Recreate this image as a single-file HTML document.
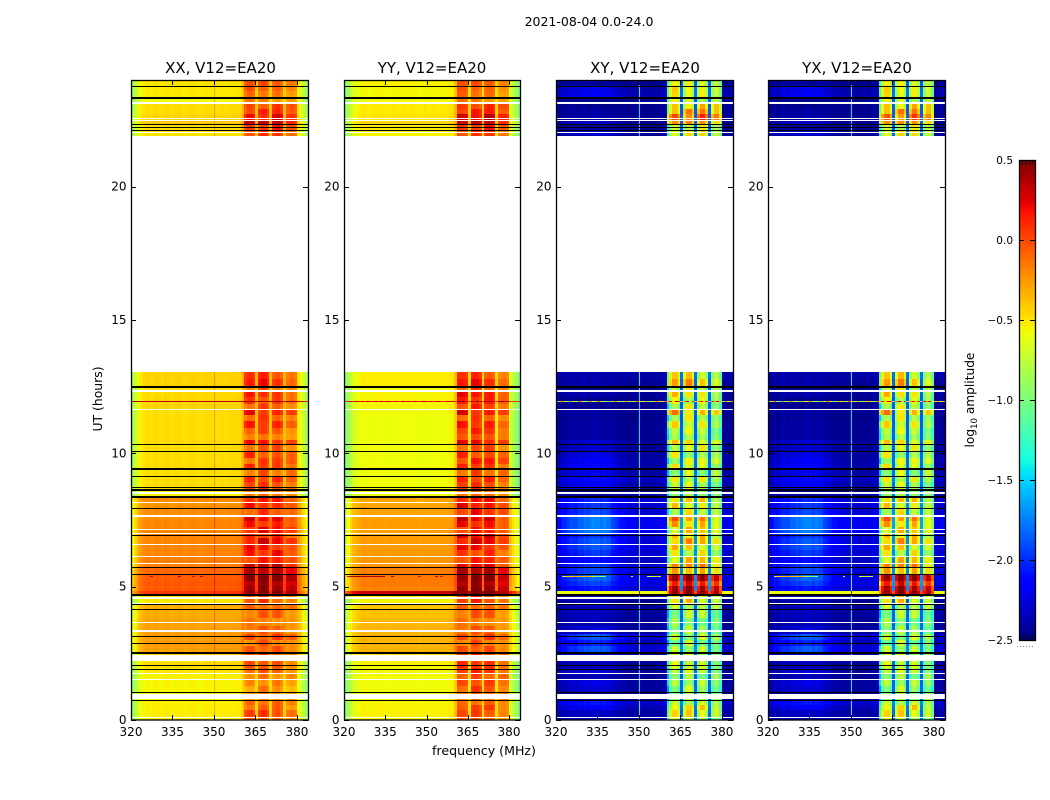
<!DOCTYPE html>
<html lang="en">
<head>
<meta charset="utf-8">
<title>2021-08-04 0.0-24.0</title>
<style>
html,body{margin:0;padding:0;background:#fff;}
svg{display:block;}
text{font-family:"DejaVu Sans","Liberation Sans",sans-serif;fill:#000;}
</style>
</head>
<body>
<svg id="chart" xmlns="http://www.w3.org/2000/svg" width="1050" height="800" viewBox="0 0 1050 800">
<rect x="0" y="0" width="1050" height="800" fill="#fff"/>
<text x="589" y="26" font-size="12.5" text-anchor="middle">2021-08-04 0.0-24.0</text>
<text x="484" y="755" font-size="12.6" text-anchor="middle">frequency (MHz)</text>
<text x="102" y="399" font-size="12.4" text-anchor="middle" transform="rotate(-90 102 399)">UT (hours)</text>
<text x="974" y="400" font-size="12.2" text-anchor="middle" transform="rotate(-90 974 400)">log<tspan font-size="8.5" dy="3">10</tspan><tspan dy="-3"> amplitude</tspan></text>
<g id="panels"></g>
<g id="colorbar"></g>
</svg>
<script>
/* ---------- data ---------- */
var panelTitles = ["XX, V12=EA20", "YY, V12=EA20", "XY, V12=EA20", "YX, V12=EA20"];
var xTickLabels = [320, 335, 350, 365, 380];
var yTickLabels = [0, 5, 10, 15, 20];
var cbarTickLabels = [0.5, 0, -0.5, -1, -1.5, -2, -2.5];
var freqStartMHz = 320;
var channelCount = 64;

var bandStartUT = [0,.11,.38,.56,.75,1.05,1.28,1.5,1.73,1.95,2.21,2.55,2.78,3,3.23,3.53,3.83,4.13,4.39,4.69,4.84,5.03,5.21,5.44,5.7,5.89,6.15,6.38,6.6,6.83,7.01,7.24,7.46,7.69,7.95,8.18,8.36,8.63,8.93,9.15,9.38,9.6,9.83,10.05,10.31,10.5,10.73,10.95,11.21,11.44,11.66,11.85,12.11,12.34,12.53,12.79,13.05,21.9,22.09,22.31,22.5,22.73,22.91,23.1,23.36,23.59,23.78];

var xxLow = [-.53,-.53,-.54,-.54,-.55,-.56,-.56,-.54,-.52,-.48,-.42,-.28,-.27,-.28,-.28,-.3,-.32,-.33,-.52,.05,-.06,-.05,-.07,-.1,-.17,-.18,-.2,-.2,-.2,-.2,-.2,-.2,-.22,-.22,-.24,-.22,-.55,-.48,-.48,-.48,-.47,-.48,-.48,-.48,-.47,-.48,-.48,-.48,-.48,-.48,-.45,-.46,-.47,-.5,-.45,-.45,null,-.5,-.48,-.42,-.45,-.48,-.48,-.58,-.52,-.52,-.5];
var xxHot = [-.08,-.05,-.15,-.1,-.2,-.25,-.22,-.2,-.15,-.08,-.1,-.08,-.15,-.05,-.12,-.17,-.14,-.12,-.08,.45,.4,.4,.45,.35,.25,.05,.12,.1,.15,.02,.12,.08,.15,-.03,.08,.05,-.12,-.05,0,-.1,-.02,-.08,0,-.1,.03,-.1,-.12,0,-.06,.05,-.1,-.05,0,-.15,.03,-.02,null,0,.05,.25,.1,.02,0,-.2,-.15,-.12,-.08];
var yyLow = [-.54,-.54,-.55,-.55,-.57,-.58,-.58,-.57,-.56,-.54,-.48,-.34,-.34,-.34,-.34,-.36,-.38,-.4,-.55,.3,-.18,-.16,-.16,-.18,-.24,-.25,-.26,-.26,-.27,-.27,-.27,-.27,-.28,-.29,-.3,-.3,-.6,-.58,-.58,-.58,-.58,-.59,-.58,-.58,-.58,-.59,-.59,-.59,-.59,-.58,-.55,-.55,-.55,-.58,-.53,-.53,null,-.55,-.52,-.46,-.5,-.52,-.52,-.58,-.56,-.56,-.54];
var yyHot = [-.1,-.08,-.05,-.1,-.1,-.05,-.02,-.05,0,.02,0,-.05,-.12,-.05,-.1,-.15,-.12,-.1,0,.45,.42,.4,.42,.38,.15,.05,.03,.12,.15,.2,.05,.12,.18,.1,.15,.08,-.1,-.02,.02,-.05,0,.03,.03,-.08,.08,.05,0,.02,-.05,.08,0,.05,.08,-.08,.05,-.03,null,0,.05,.25,.2,.05,.05,-.18,-.12,-.12,-.08];
var xyLow = [-2.38,-2.42,-2.38,-2.32,-2.45,-2.44,-2.44,-2.46,-2.44,-2.44,-2.42,-2.32,-2.38,-2.32,-2.44,-2.46,-2.44,-2.44,-2.46,-.6,-2.32,-2.28,-2.28,-2.32,-2.32,-2.36,-2.32,-2.28,-2.32,-2.32,-2.25,-2.25,-2.25,-2.32,-2.32,-2.32,-2.42,-2.42,-2.36,-2.42,-2.42,-2.42,-2.44,-2.46,-2.44,-2.46,-2.46,-2.46,-2.48,-2.46,-2.46,-2.46,-2.44,-2.46,-2.44,-2.4,null,-2.46,-2.46,-2.46,-2.46,-2.46,-2.46,-2.46,-2.4,-2.42,-2.46];
var xyHot = [-.75,-.6,-.55,-.7,-.8,-.85,-.8,-.85,-.8,-.75,-.75,-.8,-.85,-.8,-.85,-.85,-.85,-.75,-.55,.45,.4,.25,.4,-.3,-.3,-.45,-.6,-.5,-.4,-.5,-.5,-.4,-.3,-.65,-.55,-.55,-.8,-.8,-.7,-.75,-.7,-.75,-.7,-.7,-.65,-.65,-.8,-.7,-.7,-.45,-.75,-.75,-.6,-.7,-.45,-.6,null,-.55,-.7,-.3,-.15,-.3,-.4,-.65,-.55,-.6,-.65];
var yxLow = [-2.38,-2.42,-2.38,-2.32,-2.45,-2.44,-2.44,-2.46,-2.44,-2.44,-2.42,-2.32,-2.38,-2.32,-2.44,-2.46,-2.44,-2.44,-2.46,-.6,-2.32,-2.28,-2.28,-2.32,-2.32,-2.36,-2.32,-2.28,-2.32,-2.32,-2.25,-2.25,-2.25,-2.32,-2.32,-2.32,-2.42,-2.42,-2.36,-2.42,-2.42,-2.42,-2.44,-2.46,-2.44,-2.46,-2.46,-2.46,-2.48,-2.46,-2.46,-2.46,-2.44,-2.46,-2.44,-2.4,null,-2.46,-2.46,-2.46,-2.46,-2.46,-2.46,-2.46,-2.4,-2.42,-2.46];
var yxHot = [-.75,-.6,-.55,-.7,-.8,-.85,-.8,-.85,-.8,-.75,-.75,-.8,-.85,-.8,-.85,-.85,-.85,-.75,-.55,.45,.4,.25,.4,-.3,-.3,-.45,-.6,-.5,-.4,-.5,-.5,-.4,-.3,-.65,-.55,-.55,-.8,-.8,-.7,-.75,-.7,-.75,-.7,-.7,-.65,-.65,-.8,-.7,-.7,-.45,-.75,-.75,-.6,-.7,-.45,-.6,null,-.55,-.7,-.3,-.2,-.3,-.4,-.65,-.55,-.6,-.65];
var crossBlob = [0,.1,.2,.25,0,.15,.2,.1,.15,.1,.1,.45,.35,.45,.15,.1,.1,.1,.1,0,.25,.35,.45,.4,.35,.25,.35,.4,.45,.35,.5,.5,.5,.4,.35,.3,0,.25,.25,.2,.3,.25,.2,.15,.15,.05,.05,.05,.05,.05,0,0,.05,0,.05,0,null,.15,.05,.15,.05,.05,0,0,.2,.2,.05];

var blockARipple = [.05,.08,-.02,0,-.05,-.08,.02,-.05,.02,.08,.05,.05,-.1,.05,-.05,.02,-.08,.05,.02,0,0,-.05,.02,.03,.06,-.1,.05,.1,-.05,.08,-.08,.1,.15,-.1,.1,.02,-.05,.05,.1,-.1,.12,-.08,.1,-.05,.15,-.1,.02,.15,-.08,.18,-.05,.1,.15,-.05,.1,.1,null,-.05,0,.05,.08,-.05,0,.05,.05,.1,.05];
var blockBRipple = [0,.1,.05,-.08,.02,.1,-.05,.05,.1,0,.12,-.05,.1,-.08,.05,-.05,.08,-.05,.12,.05,.05,.02,.05,-.05,.05,.08,-.1,.05,.12,-.05,.1,-.08,0,.1,-.05,.08,0,.1,-.05,.08,.02,.1,-.12,.05,.1,-.08,.12,0,.1,-.05,.12,-.03,.05,.1,.15,.12,null,.05,-.05,.05,-.05,.08,-.1,0,-.05,0,.05];
var blockCRipple = [-.05,0,.08,.02,-.05,0,.05,-.08,.05,.05,-.05,.05,-.08,.1,.02,-.08,.08,0,-.05,.05,0,-.05,.05,0,.1,.05,.08,-.08,.05,.1,.05,.05,.08,-.05,0,.1,-.05,0,.1,-.1,.05,.1,-.05,.1,0,-.1,.05,.1,-.05,.05,0,.08,.05,-.05,.02,-.05,null,.05,.1,.05,.15,.08,.05,-.1,0,.02,0];
var blockDRipple = [-.12,-.05,-.1,-.05,0,-.1,-.05,.02,-.08,-.1,-.05,-.1,-.05,0,-.1,-.05,-.1,.02,-.08,-.02,-.05,-.1,-.05,-.1,-.12,-.05,-.15,-.1,-.05,-.15,-.05,-.12,-.18,-.05,-.1,-.12,-.05,-.1,-.05,.02,-.1,.05,-.05,-.1,.02,-.15,-.1,-.05,-.1,.02,-.1,-.05,-.1,-.05,-.1,-.1,null,-.1,-.05,-.1,0,-.05,0,-.05,-.1,-.05,-.05];
var rippleScale = [1, 1, 1.8, 1.8];

var xxLowProfile = [-.38,-.26,-.13,-.06,-.02,0,.01,-.01,.01,.02,0,-.01,.02,.01,-.01,0,.01,.02,0,-.01,0,.01,.02,.01,0,-.01,.01,.02,.01,0,0,0,.01,.01,0,.01,.02,.01,.02,.03,.14,0,0,0,0,.1,0,0,0,0,.1,0,0,0,0,.1,0,0,0,0,-.04,-.12,-.24,-.36];
var yyLowProfile = [-.4,-.3,-.18,-.1,-.06,-.02,0,.01,0,-.01,0,.01,0,.01,0,-.01,0,.01,.01,0,0,.01,0,0,.01,0,0,-.01,0,.01,0,0,.01,0,0,.01,0,.01,.02,.03,.16,0,0,0,0,.08,0,0,0,0,.08,0,0,0,0,.08,0,0,0,0,-.12,-.22,-.32,-.42];
var xyLowProfile = [.05,0,.03,-.03,.02,.04,0,-.02,.03,0,.04,-.02,0,.03,0,.02,-.03,.02,0,.03,-.02,.02,0,-.02,.01,0,-.02,0,.01,0,.02,0,0,-.02,.01,0,.02,0,.03,.05,.1,0,0,0,0,.6,0,0,0,0,.6,0,0,0,0,.6,0,0,0,0,0,.02,.02,.03];
var yxLowProfile = [.05,0,.03,-.03,.02,.04,0,-.02,.03,0,.04,-.02,0,.03,0,.02,-.03,.02,0,.03,-.02,.02,0,-.02,.01,0,-.02,0,.01,0,.02,0,0,-.02,.01,0,.02,0,.03,.05,.1,0,0,0,0,.6,0,0,0,0,.6,0,0,0,0,.6,0,0,0,0,0,.02,.02,.03];
var blobShape = [.2,.3,.45,.55,.6,.65,.7,.75,.8,.85,.9,.95,1,1,1,1,1,1,.95,.85,.7,.55,.45,.35,.3,.25,.2,.15,.1,.1,.1,.1,.1,.1,.1,.05,.05,.1,.1,.1,.15,0,0,0,0,0,0,0,0,0,0,0,0,0,0,0,0,0,0,0,0,0,.05,.1];
var xxHotProfile = [null,null,null,null,null,null,null,null,null,null,null,null,null,null,null,null,null,null,null,null,null,null,null,null,null,null,null,null,null,null,null,null,null,null,null,null,null,null,null,null,null,-.05,.03,.03,-.02,null,0,.06,.05,-.02,null,-.02,.04,.05,-.03,null,-.05,-.02,0,-.05,null,null,null,null];
var yyHotProfile = [null,null,null,null,null,null,null,null,null,null,null,null,null,null,null,null,null,null,null,null,null,null,null,null,null,null,null,null,null,null,null,null,null,null,null,null,null,null,null,null,null,.03,.02,.01,-.03,null,.03,.06,.04,-.03,null,0,.04,.03,-.03,null,-.08,-.05,-.04,-.08,null,null,null,null];
var crossHotProfile = [null,null,null,null,null,null,null,null,null,null,null,null,null,null,null,null,null,null,null,null,null,null,null,null,null,null,null,null,null,null,null,null,null,null,null,null,null,null,null,null,-.7,-.2,.02,.02,-.25,null,-.25,.02,.03,-.25,null,-.25,.03,.03,-.25,null,-.2,.02,.02,-.35,null,null,null,null];

var rfiFreqMHz = 350.1;
var rfiBoost = [.22, 0, 1.0, 1.0];

var spikeRowUT = 11.98;
var xxSpike = [.3,.35,.34,.36,.35,.33,.36,.35,.34,.36,.35,.34,.33,.36,.35,.34,.35,.36,.33,.35,.34,.36,.35,.34,.35,.33,.36,.35,.34,.35,.36,.34,.35,.33,.36,.35,.34,.35,.36,.35,.34,.4,.38,.42,.4,.3,.42,.4,.38,.42,.3,.4,.42,.38,.4,.3,.38,.4,.38,.35,.3,.28,.25,.2];
var yySpike = [.1,.2,.32,.1,.38,.15,.3,.1,.35,.2,.1,.3,.15,.38,.1,.25,.35,.1,.3,.2,.1,.36,.15,.3,.1,.35,.2,.1,.3,.38,.1,.25,.1,.3,.35,.15,.1,.3,.2,.38,.1,.45,.3,.48,.2,.1,.45,.2,.48,.3,.1,.45,.3,.48,.2,.1,.3,.45,.2,.3,.1,.05,.1,.05];
var xySpike = [-1.2,-.3,-.1,-.7,-1.4,-.2,-.6,-1.1,-.1,-.9,-.6,-1.3,-.2,-.8,-.5,-.1,-1,-.7,-1.4,-.3,-.9,-.1,-.6,-1.2,-.8,-.2,-.7,-1.3,-.5,-.1,-.9,-.6,-.2,-1.1,-.8,-.4,-.1,-.7,-1,-.2,-.3,.2,-.5,.3,.1,-.9,-.2,.3,-1.2,.1,-1,-.2,.2,-.6,.1,-1.3,.1,-.2,.3,-.4,-1,-.1,-.7,-.3];
var yxSpike = [-1,-.4,-.1,-.9,-1.3,-.2,-.7,-1.2,-.1,-.8,-.5,-1.3,-.3,-.7,-.6,-.1,-1.1,-.6,-1.4,-.2,-.9,-.1,-.5,-1.3,-.8,-.3,-.6,-1.2,-.5,-.1,-.8,-.7,-.2,-1,-.9,-.4,-.2,-.7,-1.1,-.2,-.4,.2,-.6,.3,.1,-1,-.1,.3,-1.1,.2,-.9,-.2,.2,-.7,.1,-1.2,.2,-.2,.3,-.5,-.9,-.2,-.8,-.4];

var flareRowUT = 5.4;
var xxFlareChannels = [7, 17, 22, 25];
var xxFlareValues = [.3, .3, .2, .3];
var yyFlareChannels = [1,2,3,4,5,6,7,8,9,10,11,12,13,14,17,27,33,35];
var yyFlareValues = [.3,.4,.35,.4,.4,.35,.4,.3,.4,.35,.4,.4,.3,.4,.3,.2,.3,.2];
var xyFlareChannels = [2,3,4,5,6,7,8,9,10,11,12,13,14,15,16,17,27,33,34,35,36,37];
var xyFlareValues = [-.7,-.5,-.4,-.4,-.3,-.35,-.3,-.4,-.35,-.3,-.4,-.5,-.9,-1.2,-.8,-1.1,-.6,-.7,-.8,-.7,-.4,-.9];
var yxFlareChannels = [2,3,4,5,6,7,8,9,10,11,12,13,14,15,16,17,27,33,34,35,36,37];
var yxFlareValues = [-.7,-.5,-.4,-.4,-.3,-.35,-.3,-.4,-.35,-.3,-.4,-.5,-.9,-1.2,-.8,-1.1,-.6,-.7,-.8,-.7,-.4,-.9];

var blackFlagsUT = [23.76,22.33,22.22,22.1,10.34,10.08,9.15,8.71,7.94,6.93,5.73,5.46,4.34,4.15,3.14,2.86,2.04,1.9,1.02,.74];
var blackThickFlagsUT = [23.34,12.5,9.41,8.63,8.37,4.7,2.52];
var whiteFlagsUT = [22.56,22.5,22.05,11.66,8.14,7.15,7,6.59,6.12,5.88,4.36,3.66,1.74,1.53,.09];
var whiteThickFlagsUT = [23.14,12.35,8.5,7.64,4.56,3.34];
var whiteBandStartUT = [2.22,.78];
var whiteBandEndUT = [2.43,.96];

/* ---------- layout ---------- */
var NS = "http://www.w3.org/2000/svg";
var plotTop = 80, plotBottom = 720;
var panelLefts = [131, 344, 556, 768];
var panelRights = [308, 520, 733, 945];
var freqSpanMHz = 64;
var utMax = 24;

var panelLow = [xxLow, yyLow, xyLow, yxLow];
var panelHot = [xxHot, yyHot, xyHot, yxHot];
var panelLowProfile = [xxLowProfile, yyLowProfile, xyLowProfile, yxLowProfile];
var panelHotProfile = [xxHotProfile, yyHotProfile, crossHotProfile, crossHotProfile];
var panelSpike = [xxSpike, yySpike, xySpike, yxSpike];
var panelFlareChannels = [xxFlareChannels, yyFlareChannels, xyFlareChannels, yxFlareChannels];
var panelFlareValues = [xxFlareValues, yyFlareValues, xyFlareValues, yxFlareValues];
var panelUsesBlob = [false, false, true, true];
var titleNudge = [1, 0, .5, .5];

function yScale(ut) { return plotBottom - (ut / utMax) * (plotBottom - plotTop); }
function xScaleFor(p) {
  return function (mhz) {
    return panelLefts[p] + (mhz - freqStartMHz) / freqSpanMHz * (panelRights[p] - panelLefts[p]);
  };
}
function rippleFor(c, b) {
  if (c < 45) { return blockARipple[b]; }
  if (c < 50) { return blockBRipple[b]; }
  if (c < 55) { return blockCRipple[b]; }
  return blockDRipple[b];
}
function interp(t, xs, ys) {
  for (var i = 1; i < xs.length; i++) {
    if (t <= xs[i]) {
      return ys[i - 1] + (ys[i] - ys[i - 1]) * (t - xs[i - 1]) / (xs[i] - xs[i - 1]);
    }
  }
  return ys[ys.length - 1];
}
function jet(v) {
  var t = Math.max(0, Math.min(1, (v + 2.5) / 3));
  var r = interp(t, [0, .35, .66, .89, 1], [0, 0, 1, 1, .5]);
  var g = interp(t, [0, .125, .375, .64, .91, 1], [0, 0, 1, 1, 0, 0]);
  var b = interp(t, [0, .11, .34, .65, 1], [.5, 1, 1, 0, 0]);
  return "rgb(" + Math.round(r * 255) + "," + Math.round(g * 255) + "," + Math.round(b * 255) + ")";
}
function mk(tag, attrs, parent) {
  var e = document.createElementNS(NS, tag);
  for (var k in attrs) { e.setAttribute(k, attrs[k]); }
  parent.appendChild(e);
  return e;
}

/* ---------- panels ---------- */
var panelsRoot = document.getElementById("panels");

function drawFlagRow(g, sx, ut, thick, color, name, p) {
  var top = Math.round(yScale(ut) - thick / 2);
  var r = mk("rect", { x: panelLefts[p], y: top, width: panelRights[p] - panelLefts[p], height: thick, fill: color, "shape-rendering": "crispEdges" }, g);
  
  
}

function drawPanel(p) {
  var sx = xScaleFor(p);
  var g = mk("g", {}, panelsRoot);
  
  

  var low = panelLow[p], hot = panelHot[p], lp = panelLowProfile[p], hp = panelHotProfile[p];

  for (var b = 0; b < bandStartUT.length; b++) {
    if (low[b] === null) { continue; }
    var endUT = b + 1 < bandStartUT.length ? bandStartUT[b + 1] : utMax;
    var yTop = Math.round(yScale(endUT));
    var yBot = Math.round(yScale(bandStartUT[b]));
    for (var c = 0; c < channelCount; c++) {
      var x0 = Math.round(sx(freqStartMHz + c));
      var x1 = Math.round(sx(freqStartMHz + c + 1));
      var v;
      if (hp[c] !== null) {
        v = hot[b] + hp[c] + rippleScale[p] * rippleFor(c, b);
      } else {
        v = low[b] + lp[c] + (panelUsesBlob[p] ? crossBlob[b] * blobShape[c] : 0);
      }
      var cell = mk("rect", { x: x0, y: yTop, width: x1 - x0, height: yBot - yTop, fill: jet(v), "shape-rendering": "crispEdges" }, g);
      
      
    }
    if (rfiBoost[p] !== 0) {
      var line = mk("rect", { x: Math.round(sx(rfiFreqMHz)), y: yTop, width: 1, height: yBot - yTop, fill: jet(low[b] + rfiBoost[p]), "shape-rendering": "crispEdges" }, g);
      
      
    }
  }

  /* single-row interference spikes */
  var spikeY = Math.round(yScale(spikeRowUT));
  for (var s = 0; s < channelCount; s++) {
    var sx0 = Math.round(sx(freqStartMHz + s));
    var sx1 = Math.round(sx(freqStartMHz + s + 1));
    var sp = mk("rect", { x: sx0, y: spikeY, width: sx1 - sx0, height: 1, fill: jet(panelSpike[p][s]), "shape-rendering": "crispEdges" }, g);
    
    
  }
  var flareY = Math.round(yScale(flareRowUT));
  for (var f = 0; f < panelFlareChannels[p].length; f++) {
    var ch = panelFlareChannels[p][f];
    var fx0 = Math.round(sx(freqStartMHz + ch));
    var fx1 = Math.round(sx(freqStartMHz + ch + 1));
    var fl = mk("rect", { x: fx0, y: flareY, width: fx1 - fx0, height: 1, fill: jet(panelFlareValues[p][f]), "shape-rendering": "crispEdges" }, g);
    
    
  }

  /* flagged time rows */
  var i;
  for (i = 0; i < whiteBandStartUT.length; i++) {
    var wTop = Math.round(yScale(whiteBandEndUT[i]));
    var wBot = Math.round(yScale(whiteBandStartUT[i]));
    var wb = mk("rect", { x: panelLefts[p], y: wTop, width: panelRights[p] - panelLefts[p], height: wBot - wTop, fill: "#fff", "shape-rendering": "crispEdges" }, g);
    
    
  }
  for (i = 0; i < whiteFlagsUT.length; i++) { drawFlagRow(g, sx, whiteFlagsUT[i], 1, "#fff", "flagged-white-row", p); }
  for (i = 0; i < whiteThickFlagsUT.length; i++) { drawFlagRow(g, sx, whiteThickFlagsUT[i], 2, "#fff", "flagged-white-row", p); }
  for (i = 0; i < blackFlagsUT.length; i++) { drawFlagRow(g, sx, blackFlagsUT[i], 1, "#000", "flagged-black-row", p); }
  for (i = 0; i < blackThickFlagsUT.length; i++) { drawFlagRow(g, sx, blackThickFlagsUT[i], 2, "#000", "flagged-black-row", p); }

  /* frame */
  var frame = mk("rect", { x: panelLefts[p] + .5, y: plotTop + .5, width: panelRights[p] - panelLefts[p], height: plotBottom - plotTop - .5, fill: "none", stroke: "#000", "stroke-width": 1.3 }, g);
  
  

  /* title */
  var title = mk("text", { x: (panelLefts[p] + panelRights[p]) / 2 + titleNudge[p], y: 73, "font-size": 15, "text-anchor": "middle" }, g);
  title.textContent = panelTitles[p];
  
  

  /* x ticks */
  xTickLabels.forEach(function (val) {
    var tx = Math.round(sx(val)) + .5;
    var t1 = mk("line", { x1: tx, x2: tx, y1: plotBottom, y2: plotBottom - 5, stroke: "#000", "stroke-width": 1, "shape-rendering": "crispEdges" }, g);
    
    
    var t2 = mk("line", { x1: tx, x2: tx, y1: plotTop, y2: plotTop + 5, stroke: "#000", "stroke-width": 1, "shape-rendering": "crispEdges" }, g);
    
    
    var lb = mk("text", { x: sx(val), y: 736, "font-size": 12, "text-anchor": "middle" }, g);
    lb.textContent = String(val);
    
    
  });

  /* y ticks */
  yTickLabels.forEach(function (val) {
    var ty = Math.round(yScale(val)) + .5;
    var t1 = mk("line", { x1: panelLefts[p], x2: panelLefts[p] + 5, y1: ty, y2: ty, stroke: "#000", "stroke-width": 1, "shape-rendering": "crispEdges" }, g);
    
    
    var t2 = mk("line", { x1: panelRights[p], x2: panelRights[p] - 5, y1: ty, y2: ty, stroke: "#000", "stroke-width": 1, "shape-rendering": "crispEdges" }, g);
    
    
    var lb = mk("text", { x: panelLefts[p] - 4.5, y: yScale(val) + 4, "font-size": 12, "text-anchor": "end" }, g);
    lb.textContent = String(val);
    
    
  });
}

for (var pi = 0; pi < panelTitles.length; pi++) { drawPanel(pi); }

/* ---------- colorbar ---------- */
var cbRoot = document.getElementById("colorbar");
var cbLeft = 1019, cbRight = 1035, cbTop = 160, cbBottom = 640;
var cbMax = cbarTickLabels[0], cbMin = cbarTickLabels[cbarTickLabels.length - 1];
function cbY(v) { return cbBottom - (v - cbMin) / (cbMax - cbMin) * (cbBottom - cbTop); }

var cbSteps = 256;
for (var k = 0; k < cbSteps; k++) {
  var vLo = cbMin + (cbMax - cbMin) * k / cbSteps;
  var vHi = cbMin + (cbMax - cbMin) * (k + 1) / cbSteps;
  var seg = mk("rect", { x: cbLeft, y: Math.round(cbY(vHi)), width: cbRight - cbLeft, height: Math.round(cbY(vLo)) - Math.round(cbY(vHi)), fill: jet((vLo + vHi) / 2), "shape-rendering": "crispEdges" }, cbRoot);
  
  
}
var cbFrame = mk("rect", { x: cbLeft + .5, y: cbTop + .5, width: cbRight - cbLeft, height: cbBottom - cbTop, fill: "none", stroke: "#000", "stroke-width": 1.3 }, cbRoot);



cbarTickLabels.forEach(function (val) {
  var ty = Math.round(cbY(val)) + .5;
  var t1 = mk("line", { x1: cbLeft, x2: cbLeft + 5, y1: ty, y2: ty, stroke: "#000", "stroke-width": 1, "shape-rendering": "crispEdges" }, cbRoot);
  
  
  var t2 = mk("line", { x1: cbRight, x2: cbRight - 5, y1: ty, y2: ty, stroke: "#000", "stroke-width": 1, "shape-rendering": "crispEdges" }, cbRoot);
  
  
  var lb = mk("text", { x: 1013, y: cbY(val) + 4, "font-size": 10.5, "text-anchor": "end" }, cbRoot);
  lb.textContent = val.toFixed(1).replace("-", "\u2212");
  
  
});

[1022.5, 1026, 1029.5, 1032.5].forEach(function (tx) {
  var t1 = mk("line", { x1: tx, x2: tx, y1: cbTop, y2: cbTop + 5, stroke: "#000", "stroke-width": 1, "shape-rendering": "crispEdges" }, cbRoot);
  
  
  var t2 = mk("line", { x1: tx, x2: tx, y1: cbBottom, y2: cbBottom - 5, stroke: "#000", "stroke-width": 1, "shape-rendering": "crispEdges" }, cbRoot);
  
  
});
var cbDots = mk("line", { x1: 1017, x2: 1035, y1: 646.5, y2: 646.5, stroke: "#888", "stroke-width": 1, "stroke-dasharray": "1 2", "shape-rendering": "crispEdges" }, cbRoot);


</script>
</body>
</html>
